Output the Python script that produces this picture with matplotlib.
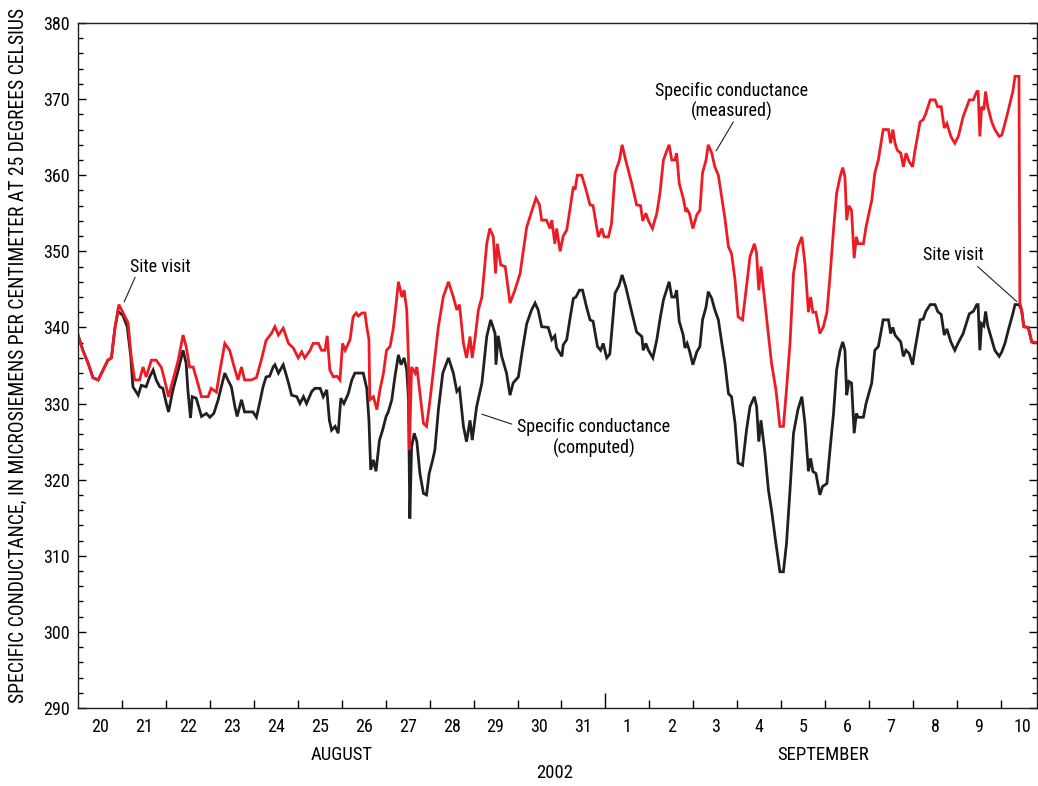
import matplotlib
matplotlib.use('Agg')
import matplotlib.pyplot as plt
from matplotlib import font_manager
import matplotlib.transforms as mtransforms

names = set(f.name for f in font_manager.fontManager.ttflist)
fam = 'DejaVu Sans'
for cand in ['Roboto Condensed', 'Archivo Narrow', 'PT Sans Narrow', 'Liberation Sans Narrow',
             'Fira Sans Condensed', 'Barlow Condensed']:
    if cand in names:
        fam = cand
        break
plt.rcParams['font.family'] = [fam, 'DejaVu Sans']

# time in days since 2002-08-20 00:00
t_meas = [0.00, 0.11, 0.23, 0.34, 0.46, 0.57, 0.68, 0.76, 0.84, 0.93, 1.02, 1.14, 1.21, 1.29, 1.40,
          1.48, 1.55, 1.67, 1.78, 1.90, 1.97, 2.06, 2.16, 2.28, 2.39, 2.46, 2.54, 2.62, 2.69, 2.81,
          2.96, 3.03, 3.15, 3.22, 3.34, 3.45, 3.53, 3.64, 3.72, 3.79, 3.94, 4.06, 4.17, 4.28, 4.40,
          4.48, 4.56, 4.67, 4.79, 4.90, 5.01, 5.09, 5.16, 5.28, 5.35, 5.47, 5.54, 5.62, 5.67, 5.73,
          5.81, 5.89, 5.96, 6.02, 6.08, 6.19, 6.26, 6.33, 6.38, 6.46, 6.53, 6.57, 6.62, 6.64, 6.72,
          6.80, 6.87, 6.95, 7.02, 7.10, 7.17, 7.24, 7.29, 7.37, 7.42, 7.48, 7.52, 7.54, 7.59, 7.67,
          7.71, 7.78, 7.86, 7.93, 8.01, 8.08, 8.20, 8.31, 8.43, 8.54, 8.62, 8.68, 8.77, 8.84, 8.92,
          8.97, 9.03, 9.11, 9.19, 9.26, 9.30, 9.37, 9.45, 9.50, 9.54, 9.62, 9.72, 9.83, 9.94, 10.06,
          10.13, 10.21, 10.32, 10.42, 10.50, 10.55, 10.66, 10.74, 10.78, 10.85, 10.89, 10.97, 11.04,
          11.12, 11.19, 11.27, 11.31, 11.36, 11.46, 11.54, 11.65, 11.72, 11.80, 11.84, 11.92, 11.97,
          12.07, 12.14, 12.22, 12.32, 12.38, 12.46, 12.60, 12.71, 12.80, 12.85, 12.92, 12.98, 13.07,
          13.17, 13.24, 13.32, 13.39, 13.45, 13.51, 13.58, 13.62, 13.68, 13.77, 13.83, 13.86, 13.91,
          13.99, 14.08, 14.15, 14.21, 14.29, 14.34, 14.42, 14.49, 14.57, 14.65, 14.72, 14.80, 14.87,
          14.95, 15.02, 15.12, 15.21, 15.29, 15.39, 15.44, 15.49, 15.54, 15.63, 15.71, 15.78, 15.88,
          15.97, 16.05, 16.12, 16.20, 16.28, 16.38, 16.47, 16.54, 16.62, 16.67, 16.72, 16.79, 16.88,
          16.96, 17.04, 17.11, 17.19, 17.26, 17.34, 17.40, 17.45, 17.49, 17.54, 17.60, 17.66, 17.71,
          17.75, 17.87, 17.93, 18.06, 18.13, 18.21, 18.32, 18.44, 18.49, 18.54, 18.59, 18.64, 18.72,
          18.78, 18.84, 18.91, 18.99, 19.04, 19.16, 19.23, 19.29, 19.39, 19.50, 19.56, 19.64, 19.71,
          19.77, 19.86, 19.95, 20.03, 20.14, 20.28, 20.37, 20.45, 20.48, 20.52, 20.56, 20.61, 20.65,
          20.70, 20.79, 20.86, 20.96, 21.02, 21.09, 21.17, 21.27, 21.32, 21.41, 21.43, 21.47, 21.52,
          21.62, 21.70, 21.81]
sc_meas = [339.0, 337.0, 335.3, 333.4, 333.1, 334.4, 335.7, 336.0, 339.9, 343.0, 342.0, 340.6, 336.2,
           333.1, 333.1, 334.8, 333.5, 335.7, 335.7, 334.7, 333.1, 330.9, 333.1, 335.7, 339.0, 337.5,
           334.8, 334.8, 333.4, 330.9, 330.9, 332.0, 331.5, 334.0, 337.9, 337.0, 335.3, 333.1, 334.8,
           333.1, 333.1, 333.4, 335.7, 338.3, 339.2, 340.1, 339.0, 339.9, 337.9, 337.3, 336.0, 336.8,
           336.0, 337.0, 337.9, 337.9, 337.0, 337.0, 338.9, 334.4, 333.5, 333.6, 333.1, 337.9, 337.0,
           338.4, 341.4, 341.9, 341.5, 341.9, 341.9, 340.1, 338.4, 330.5, 330.9, 329.2, 331.8, 334.0,
           337.0, 337.5, 339.7, 343.2, 346.0, 344.0, 344.9, 342.3, 335.7, 323.9, 334.8, 334.0, 334.8,
           331.3, 327.4, 327.0, 330.5, 334.0, 340.1, 344.0, 346.0, 344.0, 342.3, 343.0, 337.9, 336.0,
           338.8, 336.0, 338.4, 342.3, 344.0, 348.4, 351.0, 353.0, 351.9, 347.1, 351.0, 348.2, 348.0,
           343.2, 344.9, 347.1, 350.0, 353.2, 355.2, 357.0, 356.1, 354.1, 354.1, 353.0, 354.1, 351.0,
           353.0, 350.0, 352.0, 352.8, 355.4, 358.5, 358.1, 360.0, 360.0, 358.5, 356.1, 356.0, 353.2,
           351.9, 353.0, 351.9, 351.9, 353.7, 360.3, 362.0, 364.0, 362.0, 358.9, 356.1, 356.0, 354.0,
           355.0, 354.0, 353.0, 355.0, 357.6, 362.0, 363.1, 364.0, 362.0, 362.0, 362.9, 358.9, 357.0,
           355.2, 355.5, 355.0, 353.0, 354.8, 355.4, 360.3, 362.0, 364.0, 362.9, 361.1, 360.0, 357.0,
           354.3, 350.6, 349.7, 346.2, 341.4, 341.0, 345.4, 349.3, 351.0, 349.7, 344.9, 348.0, 343.2,
           338.8, 335.3, 331.8, 327.0, 327.0, 331.8, 337.9, 347.1, 350.6, 351.9, 348.4, 342.0, 344.0,
           342.0, 342.0, 339.2, 340.1, 342.0, 346.7, 352.8, 357.6, 359.8, 361.0, 359.8, 354.1, 356.0,
           355.4, 349.1, 351.9, 351.0, 351.0, 353.2, 356.7, 360.3, 362.0, 366.0, 366.0, 364.2, 366.0,
           364.2, 363.3, 362.9, 361.1, 362.9, 361.8, 361.1, 363.1, 367.0, 367.3, 368.1, 369.9, 369.9,
           369.0, 369.0, 366.2, 366.8, 365.1, 364.2, 365.1, 367.7, 369.9, 369.9, 371.0, 371.0, 365.1,
           369.0, 368.6, 371.0, 369.0, 367.0, 366.0, 365.1, 365.3, 366.8, 368.6, 371.0, 373.0, 373.0,
           343.2, 342.3, 340.1, 340.0, 338.1, 338.0]

t_comp = [0.00, 0.11, 0.23, 0.34, 0.46, 0.57, 0.68, 0.76, 0.84, 0.91, 1.02, 1.12, 1.20, 1.25, 1.37,
          1.44, 1.55, 1.63, 1.71, 1.78, 1.86, 1.93, 2.01, 2.06, 2.16, 2.28, 2.39, 2.46, 2.50, 2.56,
          2.60, 2.69, 2.81, 2.92, 3.00, 3.09, 3.19, 3.26, 3.34, 3.41, 3.49, 3.57, 3.62, 3.72, 3.79,
          3.98, 4.06, 4.13, 4.21, 4.28, 4.36, 4.44, 4.48, 4.56, 4.67, 4.79, 4.86, 4.98, 5.05, 5.13,
          5.20, 5.32, 5.39, 5.51, 5.58, 5.66, 5.72, 5.77, 5.85, 5.92, 5.98, 6.05, 6.15, 6.23, 6.30,
          6.49, 6.57, 6.62, 6.66, 6.72, 6.78, 6.86, 6.93, 7.01, 7.06, 7.14, 7.21, 7.29, 7.35, 7.42,
          7.48, 7.52, 7.55, 7.59, 7.65, 7.71, 7.78, 7.86, 7.93, 7.99, 8.07, 8.12, 8.20, 8.30, 8.43,
          8.54, 8.62, 8.68, 8.77, 8.84, 8.92, 8.97, 9.07, 9.19, 9.30, 9.39, 9.49, 9.51, 9.56, 9.64,
          9.75, 9.83, 9.90, 10.02, 10.10, 10.21, 10.32, 10.40, 10.47, 10.55, 10.70, 10.78, 10.85,
          10.89, 11.01, 11.04, 11.12, 11.19, 11.27, 11.33, 11.41, 11.48, 11.57, 11.65, 11.72, 11.82,
          11.89, 11.95, 12.03, 12.10, 12.22, 12.31, 12.38, 12.46, 12.60, 12.71, 12.83, 12.86, 12.92,
          12.98, 13.08, 13.17, 13.24, 13.32, 13.39, 13.45, 13.51, 13.58, 13.62, 13.68, 13.77, 13.81,
          13.86, 13.91, 13.99, 14.08, 14.15, 14.21, 14.29, 14.34, 14.42, 14.49, 14.57, 14.65, 14.72,
          14.80, 14.87, 14.95, 15.02, 15.12, 15.21, 15.29, 15.39, 15.44, 15.49, 15.54, 15.63, 15.71,
          15.78, 15.88, 15.97, 16.05, 16.12, 16.20, 16.28, 16.38, 16.47, 16.54, 16.62, 16.67, 16.72,
          16.79, 16.88, 16.94, 17.04, 17.11, 17.19, 17.26, 17.34, 17.40, 17.45, 17.49, 17.54, 17.60,
          17.66, 17.71, 17.75, 17.87, 17.93, 18.06, 18.13, 18.21, 18.32, 18.44, 18.49, 18.54, 18.59,
          18.66, 18.72, 18.78, 18.84, 18.91, 18.99, 19.04, 19.16, 19.23, 19.29, 19.39, 19.50, 19.56,
          19.64, 19.71, 19.77, 19.86, 19.95, 20.03, 20.14, 20.28, 20.37, 20.45, 20.48, 20.52, 20.56,
          20.61, 20.65, 20.70, 20.79, 20.86, 20.96, 21.02, 21.09, 21.17, 21.27, 21.32, 21.41, 21.47,
          21.52, 21.62, 21.70, 21.81]
sc_comp = [339.0, 337.0, 335.3, 333.4, 333.1, 334.4, 335.7, 336.0, 339.9, 342.1, 341.6, 340.1, 336.2,
           332.2, 331.1, 332.4, 332.2, 333.5, 334.4, 333.1, 332.2, 332.0, 330.0, 328.9, 331.8, 334.4,
           337.0, 335.3, 331.8, 328.1, 330.9, 330.7, 328.3, 328.7, 328.2, 328.7, 330.5, 332.2, 334.0,
           333.1, 332.2, 329.6, 328.3, 330.5, 328.9, 328.9, 328.2, 330.0, 332.2, 333.5, 333.6, 334.8,
           335.1, 334.0, 335.1, 332.7, 331.1, 330.9, 330.0, 330.9, 330.0, 331.6, 332.0, 332.0, 330.9,
           331.8, 327.8, 326.5, 327.0, 326.1, 330.7, 330.0, 331.3, 333.1, 334.0, 334.0, 332.0, 327.8,
           321.3, 322.6, 321.1, 325.2, 326.5, 328.3, 328.9, 330.5, 333.5, 336.4, 335.1, 336.0, 334.4,
           330.5, 314.9, 324.3, 326.1, 325.0, 320.8, 318.2, 318.0, 320.8, 322.6, 323.9, 329.2, 334.0,
           336.0, 334.0, 331.6, 332.0, 327.0, 325.0, 327.8, 325.2, 329.6, 332.7, 338.8, 341.0, 339.2,
           335.1, 338.9, 336.2, 334.0, 331.1, 332.7, 333.5, 336.6, 340.5, 342.3, 343.2, 342.3, 340.1,
           340.0, 338.4, 338.9, 337.3, 336.2, 337.7, 338.4, 341.0, 343.8, 344.0, 344.9, 344.9, 342.7,
           341.0, 340.8, 337.5, 337.0, 337.9, 336.0, 336.5, 344.5, 345.5, 346.9, 345.4, 342.0, 339.4,
           338.8, 337.0, 337.9, 337.0, 336.0, 338.4, 341.0, 343.6, 344.9, 346.0, 344.0, 344.0, 344.9,
           340.8, 339.0, 337.3, 337.9, 337.0, 335.1, 336.8, 337.5, 341.0, 342.7, 344.7, 343.8, 342.3,
           341.0, 337.9, 335.3, 331.3, 330.9, 327.4, 322.2, 321.9, 326.5, 329.6, 330.9, 329.6, 325.0,
           327.8, 323.5, 318.6, 316.0, 311.6, 307.9, 307.9, 311.6, 318.6, 326.1, 329.2, 330.9, 327.4,
           321.1, 322.8, 321.1, 320.8, 318.0, 319.1, 319.5, 323.9, 328.7, 334.4, 337.0, 338.1, 337.0,
           331.1, 332.9, 332.7, 326.1, 328.7, 328.2, 328.2, 330.0, 332.7, 337.0, 337.5, 341.0, 341.0,
           339.2, 340.0, 339.0, 338.5, 338.1, 336.2, 337.0, 336.6, 335.1, 337.0, 341.0, 341.1, 342.1,
           343.0, 343.0, 342.1, 341.7, 339.0, 339.8, 338.1, 337.0, 338.0, 339.2, 341.8, 342.1, 343.0,
           343.0, 337.0, 340.5, 340.2, 342.1, 340.2, 338.4, 337.0, 336.2, 336.8, 337.9, 339.7, 341.8,
           343.0, 343.0, 342.3, 340.1, 340.0, 338.1, 338.0]

day_labels = ['20', '21', '22', '23', '24', '25', '26', '27', '28', '29', '30', '31',
              '1', '2', '3', '4', '5', '6', '7', '8', '9', '10']

fig = plt.figure(figsize=(10.38, 7.86), dpi=100)
ax = fig.add_axes([78 / 1038, 1 - 708 / 786, 959 / 1038, 685 / 786])

ax.plot(t_comp, sc_comp, color='#231f20', lw=2.0, solid_joinstyle='miter')
ax.plot(t_meas, sc_meas, color='#ed1c24', lw=2.0, solid_joinstyle='miter')

ax.set_xlim(0, 21.82)
ax.set_ylim(290, 380)

# x ticks: day boundaries (unlabeled) and labels at day centres
ax.set_xticks(range(1, 22))
ax.set_xticklabels([])
ax.set_xticks([i + 0.5 for i in range(22)], minor=True)
ax.set_xticklabels(day_labels, minor=True)
ax.tick_params(axis='x', which='major', direction='in', length=6, width=1, top=False)
ax.tick_params(axis='x', which='minor', length=0, pad=7, labelsize=13)
# longer tick at the month boundary
ax.xaxis.get_major_ticks()[11].tick1line.set_markersize(11)

ax.set_yticks(range(290, 381, 10))
ax.set_yticks(range(290, 381, 2), minor=True)
ax.tick_params(axis='y', which='major', direction='in', length=6, width=1, right=True, labelsize=13, pad=6)
ax.tick_params(axis='y', which='minor', direction='in', length=3.6, width=1, right=True)

for s in ax.spines.values():
    s.set_linewidth(1.0)
    s.set_color('#231f20')

trans = mtransforms.blended_transform_factory(ax.transData, ax.transAxes)
ax.text(6.0, -0.069, 'AUGUST', transform=trans, ha='center', va='center', fontsize=13.5)
ax.text(16.95, -0.069, 'SEPTEMBER', transform=trans, ha='center', va='center', fontsize=13.5)
ax.text(0.497, -0.095, '2002', transform=ax.transAxes, ha='center', va='center', fontsize=13.5)

fig.text(18 / 1038, 0.548, 'SPECIFIC CONDUCTANCE, IN MICROSIEMENS PER CENTIMETER AT 25 DEGREES CELSIUS',
         rotation=90, ha='center', va='center', fontsize=14.1)

arrow = dict(arrowstyle='-', color='#231f20', lw=0.8, shrinkA=0, shrinkB=0)
ax.annotate('', xy=(1.05, 343.35), xytext=(1.30, 346.6), arrowprops=arrow)
ax.text(1.87, 348.0, 'Site visit', ha='center', va='center', fontsize=13)
ax.annotate('', xy=(21.36, 343.4), xytext=(20.47, 348.0), arrowprops=arrow)
ax.text(19.91, 349.5, 'Site visit', ha='center', va='center', fontsize=13)
ax.annotate('', xy=(14.52, 363.2), xytext=(14.91, 367.0), arrowprops=arrow)
ax.text(14.88, 369.7, 'Specific conductance\n(measured)', ha='center', va='center', fontsize=13,
        linespacing=1.15)
ax.annotate('', xy=(9.19, 328.6), xytext=(9.87, 327.3), arrowprops=arrow)
ax.text(11.74, 325.5, 'Specific conductance\n(computed)', ha='center', va='center', fontsize=13,
        linespacing=1.15)

fig.savefig('out.png', dpi=100)
